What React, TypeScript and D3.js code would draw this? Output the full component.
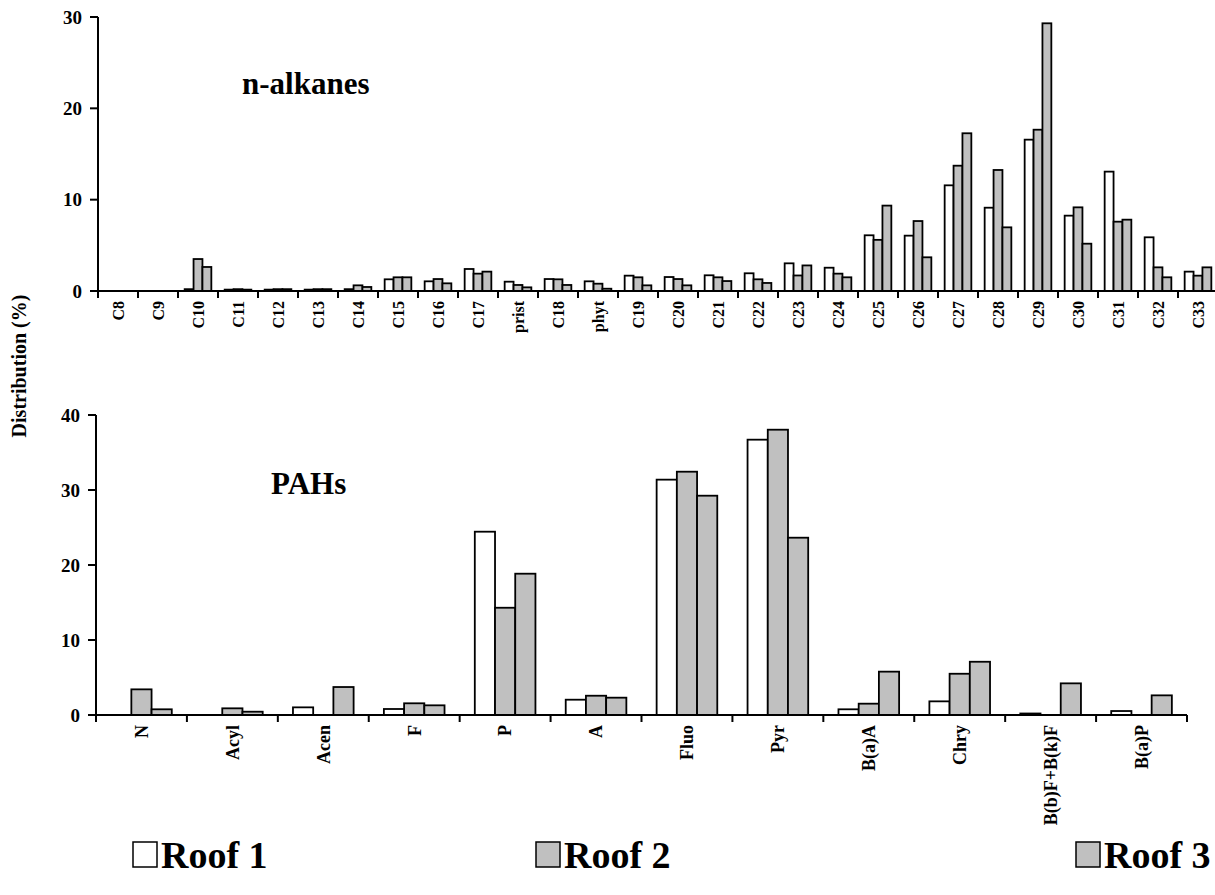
import React from "react";
import * as d3 from "d3";

const alkaneCats = ["C8","C9","C10","C11","C12","C13","C14","C15","C16","C17","prist","C18","phyt","C19","C20","C21","C22","C23","C24","C25","C26","C27","C28","C29","C30","C31","C32","C33"];
const alkRoof1 = [0,0,0.2,0.15,0.15,0.15,0.2,1.28,1.06,2.41,1.02,1.31,1.06,1.68,1.53,1.72,1.94,3.03,2.55,6.1,6.06,11.57,9.12,16.57,8.25,13.07,5.88,2.12];
const alkRoof2 = [0,0,3.5,0.2,0.2,0.2,0.62,1.5,1.31,1.9,0.66,1.28,0.8,1.5,1.31,1.5,1.28,1.7,1.9,5.6,7.66,13.72,13.25,17.66,9.16,7.59,2.59,1.68];
const alkRoof3 = [0,0,2.63,0.15,0.2,0.2,0.44,1.5,0.84,2.12,0.4,0.66,0.25,0.62,0.62,1.09,0.88,2.8,1.5,9.35,3.69,17.27,6.97,29.31,5.18,7.81,1.5,2.59];
const alkTicks = [0,10,20,30];

const pahCats = ["N","Acyl","Acen","F","P","A","Fluo","Pyr","B(a)A","Chry","B(b)F+B(k)F","B(a)P"];
const pahRoof1 = [0,0,1.02,0.8,24.44,2.04,31.38,36.71,0.76,1.82,0.2,0.53];
const pahRoof2 = [3.42,0.89,0,1.56,14.3,2.57,32.44,38.04,1.51,5.5,0,0];
const pahRoof3 = [0.76,0.44,3.73,1.29,18.84,2.31,29.24,23.64,5.78,7.1,4.22,2.62];
const pahTicks = [0,10,20,30,40];

const seriesNames = ["Roof 1","Roof 2","Roof 3"];
const seriesFill = ["#ffffff","#c0c0c0","#c0c0c0"];

const FONT = "'Liberation Serif', 'Times New Roman', serif";

type PanelProps = {
  cats: string[];
  values: number[][];
  ticks: number[];
  yMax: number;
  x0: number; x1: number; yTop: number; yBase: number;
  labelSize: number; tickSize: number;
  title: string; titleX: number; titleY: number;
};

function Panel(p: PanelProps) {
  const x = d3.scaleBand<string>().domain(p.cats).range([p.x0, p.x1]).padding(0);
  const y = d3.scaleLinear().domain([0, p.yMax]).range([p.yBase, p.yTop]);
  const bw = x.bandwidth();
  const groupFrac = 0.667;
  const inner = d3.scaleBand<string>().domain(seriesNames).range([0, bw * groupFrac]).padding(0);
  const off = (bw * (1 - groupFrac)) / 2;
  const boundaries = d3.range(p.cats.length + 1).map((i) => p.x0 + i * bw);
  return (
    <g>
      {p.values.map((vals, si) =>
        vals.map((v, ci) =>
          v > 0 ? (
            <rect
              key={`${si}-${ci}`}
              x={(x(p.cats[ci]) as number) + off + (inner(seriesNames[si]) as number)}
              y={y(v)}
              width={inner.bandwidth()}
              height={p.yBase - y(v)}
              fill={seriesFill[si]}
              stroke="#000"
              strokeWidth={1.8}
            />
          ) : null
        )
      )}
      <line x1={p.x0} x2={p.x0} y1={y(p.yMax)} y2={p.yBase} stroke="#000" strokeWidth={2} />
      <line x1={p.x0} x2={p.x1} y1={p.yBase} y2={p.yBase} stroke="#000" strokeWidth={2} />
      {p.ticks.map((t) => (
        <g key={t}>
          <line x1={p.x0 - 8} x2={p.x0} y1={y(t)} y2={y(t)} stroke="#000" strokeWidth={2} />
          <text x={p.x0 - 16} y={y(t)} dy="0.35em" textAnchor="end" fontFamily={FONT} fontWeight="bold" fontSize={p.tickSize}>
            {t}
          </text>
        </g>
      ))}
      {boundaries.map((bx, i) => (
        <line key={i} x1={bx} x2={bx} y1={p.yBase} y2={p.yBase + 7} stroke="#000" strokeWidth={2} />
      ))}
      {p.cats.map((c) => {
        const cx = (x(c) as number) + bw / 2;
        const ly = p.yBase + 10;
        return (
          <text
            key={c}
            transform={`translate(${cx},${ly}) rotate(-90)`}
            dy="0.35em"
            textAnchor="end"
            fontFamily={FONT}
            fontWeight="bold"
            fontSize={p.labelSize}
          >
            {c}
          </text>
        );
      })}
      <text x={p.titleX} y={p.titleY} fontFamily={FONT} fontWeight="bold" fontSize={31}>
        {p.title}
      </text>
    </g>
  );
}

const legendX = [133, 536, 1076];

export default function App() {
  return (
    <div style={{ position: "absolute", left: 0, top: 0 }}>
      <svg width={1215} height={895} style={{ display: "block", background: "#fff" }}>
        <Panel
          cats={alkaneCats}
          values={[alkRoof1, alkRoof2, alkRoof3]}
          ticks={alkTicks}
          yMax={30}
          x0={98} x1={1218} yTop={17} yBase={291}
          labelSize={16} tickSize={19}
          title="n-alkanes" titleX={242} titleY={94}
        />
        <Panel
          cats={pahCats}
          values={[pahRoof1, pahRoof2, pahRoof3]}
          ticks={pahTicks}
          yMax={40}
          x0={96} x1={1187} yTop={415} yBase={715}
          labelSize={18} tickSize={19}
          title="PAHs" titleX={271} titleY={494}
        />
        <text
          transform="translate(19,366) rotate(-90)"
          dy="0.35em"
          textAnchor="middle"
          fontFamily={FONT}
          fontWeight="bold"
          fontSize={20}
        >
          Distribution (%)
        </text>
        {seriesNames.map((s, i) => (
          <g key={s}>
            <rect x={legendX[i]} y={842} width={24} height={25} fill={seriesFill[i]} stroke="#000" strokeWidth={1.5} />
            <text x={legendX[i] + 28} y={868} fontFamily={FONT} fontWeight="bold" fontSize={38}>
              {s}
            </text>
          </g>
        ))}
      </svg>
    </div>
  );
}
